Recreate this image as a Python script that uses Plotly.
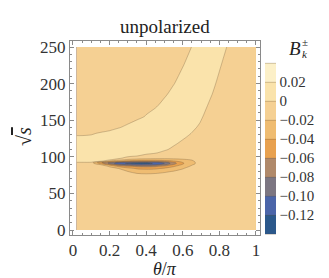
import plotly.graph_objects as go

# theta/pi grid (columns) and sqrt(s) grid (rows)
theta = [0.02, 0.05, 0.1, 0.15, 0.2, 0.25, 0.3, 0.35, 0.4, 0.45, 0.5,
         0.55, 0.6, 0.65, 0.7, 0.75, 0.8, 0.85, 0.9, 0.95, 1.0]
sqrt_s = [0, 70, 76, 80, 84, 87, 89, 90, 91, 92, 93, 94, 96, 98, 102, 106,
          110, 118, 126, 132, 136, 140, 147, 155, 170, 185, 200, 225, 250]

# B_k^± values, in units of 1e-3 (one row per sqrt_s)
B_milli = [
    [-10, -10, -10, -10, -10, -10, -10, -10, -10, -10, -10, -10, -10, -10, -10, -10, -10, -10, -10, -10, -10],
    [-10, -10, -10, -10, -10, -10, -10, -10, -10, -10, -10, -10, -10, -10, -10, -10, -10, -10, -10, -10, -10],
    [-10, -10, -10, -10, -10, -10, -13, -17, -18, -17, -15, -12, -10, -10, -10, -10, -10, -10, -10, -10, -10],
    [-10, -10, -10, -10, -10, -13, -20, -26, -28, -27, -23, -19, -14, -10, -10, -10, -10, -10, -10, -10, -10],
    [-10, -10, -10, -10, -14, -20, -33, -42, -44, -43, -37, -29, -21, -12, -10, -10, -10, -10, -10, -10, -10],
    [-10, -10, -10, -11, -22, -45, -56, -64, -66, -63, -54, -42, -29, -17, -10, -10, -10, -10, -10, -10, -10],
    [-10, -10, -10, -17, -45, -78, -92, -100, -100, -95, -78, -55, -36, -21, -10, -10, -10, -10, -10, -10, -10],
    [-10, -10, -10, -27, -70, -100, -113, -118, -118, -112, -93, -63, -40, -24, -10, -10, -10, -10, -10, -10, -10],
    [-10, -10, -10, -45, -86, -112, -123, -130, -129, -116, -100, -68, -42, -26, -10, -10, -10, -10, -10, -10, -10],
    [-10, -10, -10, -55, -84, -110, -117, -121, -122, -114, -96, -66, -41, -26, -10, -10, -10, -10, -10, -10, -10],
    [10, 10, 7, -32, -55, -74, -83, -88, -92, -88, -76, -55, -37, -25, -10, -10, -10, -10, -10, -10, -10],
    [10, 10, 10, 3, -24, -40, -50, -55, -58, -57, -52, -43, -32, -23, -10, -10, -10, -10, -10, -10, -10],
    [10, 10, 10, 10, 3, -14, -23, -26, -28, -29, -28, -26, -23, -19, -10, -10, -10, -10, -10, -10, -10],
    [10, 10, 10, 10, 10, 4, -11, -14, -15, -16, -17, -16, -15, -13, -10, -10, -10, -10, -10, -10, -10],
    [10, 10, 10, 10, 10, 10, 10, 4, -6, -10, -10, -10, -10, -10, -10, -10, -10, -10, -10, -10, -10],
    [10, 10, 10, 10, 10, 10, 10, 10, 10, 4, -6, -10, -10, -10, -10, -10, -10, -10, -10, -10, -10],
    [10, 10, 10, 10, 10, 10, 10, 10, 10, 10, 4, -6, -10, -10, -10, -10, -10, -10, -10, -10, -10],
    [10, 10, 10, 10, 10, 10, 10, 10, 10, 10, 10, 4, -6, -10, -10, -10, -10, -10, -10, -10, -10],
    [10, 10, 10, 10, 10, 10, 10, 10, 10, 10, 10, 10, 3, -7, -10, -10, -10, -10, -10, -10, -10],
    [-10, -10, -5, 5, 10, 10, 10, 10, 10, 10, 10, 10, 9, -1, -10, -10, -10, -10, -10, -10, -10],
    [-10, -10, -10, -10, -1, 9, 10, 10, 10, 10, 10, 10, 10, 2, -8, -10, -10, -10, -10, -10, -10],
    [-10, -10, -10, -10, -10, -2, 8, 10, 10, 10, 10, 10, 10, 5, -5, -10, -10, -10, -10, -10, -10],
    [-10, -10, -10, -10, -10, -10, -4, 6, 10, 10, 10, 10, 10, 9, -1, -10, -10, -10, -10, -10, -10],
    [-10, -10, -10, -10, -10, -10, -10, -8, 2, 10, 10, 10, 10, 10, 2, -8, -10, -10, -10, -10, -10],
    [-10, -10, -10, -10, -10, -10, -10, -10, -10, -3, 7, 10, 10, 10, 7, -3, -10, -10, -10, -10, -10],
    [-10, -10, -10, -10, -10, -10, -10, -10, -10, -10, -3, 7, 10, 10, 10, 2, -8, -10, -10, -10, -10],
    [-10, -10, -10, -10, -10, -10, -10, -10, -10, -10, -10, -1, 9, 10, 10, 6, -4, -10, -10, -10, -10],
    [-10, -10, -10, -10, -10, -10, -10, -10, -10, -10, -10, -10, -1, 9, 10, 10, 2, -8, -10, -10, -10],
    [-10, -10, -10, -10, -10, -10, -10, -10, -10, -10, -10, -10, -10, 0.5, 10, 10, 8, -2, -10, -10, -10],
]

level_vals = [-0.12, -0.10, -0.08, -0.06, -0.04, -0.02, 0, 0.02]
level_text = ["\u22120.12", "\u22120.10", "\u22120.08", "\u22120.06", "\u22120.04", "\u22120.02", "0", "0.02"]

band_colors = ["#ffffff", "#2b588b", "#4b65a9", "#7c7682", "#b0896a", "#e8a14f",
               "#efbc71", "#f5d093", "#fae3ab", "#fcf0c8", "#ffffff"]
colorscale = [[i / 10, c] for i, c in enumerate(band_colors)]

z = [[v / 1000 for v in row] for row in B_milli]

SERIF = "Liberation Serif"

L, R, T, Bm = 62, 252, 33, 227
W, H = 329, 278


def pxx(x):
    return (x - L) / (R - L)


def pxy(y):
    return (Bm - y) / (Bm - T)


fig = go.Figure(go.Contour(
    x=theta, y=sqrt_s, z=z,
    autocontour=False,
    contours=dict(start=-0.14, end=0.041, size=0.02, coloring="fill"),
    colorscale=colorscale,
    line=dict(color="rgba(105,80,55,0.5)", width=0.6, smoothing=0.9),
    hoverinfo="skip",
    colorbar=dict(
        thickness=11, len=190, lenmode="pixels",
        x=pxx(257), xanchor="left", xpad=0,
        y=pxy(140.5), yanchor="middle", ypad=0,
        outlinewidth=0,
        tickvals=level_vals, ticktext=level_text,
        ticks="", ticklabelposition="outside",
        tickfont=dict(family=SERIF, size=15, color="#333"),
    ),
))

axis_common = dict(
    showgrid=False, zeroline=False,
    showline=True, linecolor="#8a8a8a", linewidth=1, mirror="ticks",
    ticks="inside", ticklen=4, tickcolor="#8a8a8a", tickwidth=1,
    tickfont=dict(family=SERIF, size=17, color="#333"),
)

fig.update_xaxes(range=[-0.016, 1.022], tickvals=[0, 0.2, 0.4, 0.6, 0.8, 1],
                 ticktext=["0", "0.2", "0.4", "0.6", "0.8", "1"],
                 minor=dict(dtick=0.05, tick0=0, ticks="inside", ticklen=2, tickcolor="#8a8a8a"),
                 **axis_common)
fig.update_yaxes(range=[-6.8, 258.2], tickvals=[0, 50, 100, 150, 200, 250],
                 minor=dict(dtick=10, tick0=0, ticks="inside", ticklen=2, tickcolor="#8a8a8a"),
                 **axis_common)

ann = [
    dict(text="unpolarized", x=pxx(157), y=pxy(18), font=dict(size=19)),
    dict(text="<i>θ</i>/<i>π</i>", x=pxx(157), y=pxy(261), font=dict(size=18)),
    dict(text="√<span style='text-decoration:overline'><i>s</i></span>", x=pxx(16), y=pxy(129),
         textangle=-90, font=dict(size=20)),
    dict(text="<i>B</i>", x=pxx(287), y=pxy(41), font=dict(size=19)),
    dict(text="±", x=pxx(296.5), y=pxy(34), font=dict(size=11)),
    dict(text="<i>k</i>", x=pxx(296.5), y=pxy(46), font=dict(size=11)),
]
for a in ann:
    f = dict(family=SERIF, color="#222")
    f.update(a.pop("font"))
    fig.add_annotation(xref="paper", yref="paper", showarrow=False,
                       xanchor="center", yanchor="middle", font=f, **a)

fig.update_layout(
    width=W, height=H,
    margin=dict(l=L, r=W - R, t=T, b=H - Bm),
    paper_bgcolor="white", plot_bgcolor="white",
    showlegend=False,
    font=dict(family=SERIF),
)

fig.write_html("out.html")
